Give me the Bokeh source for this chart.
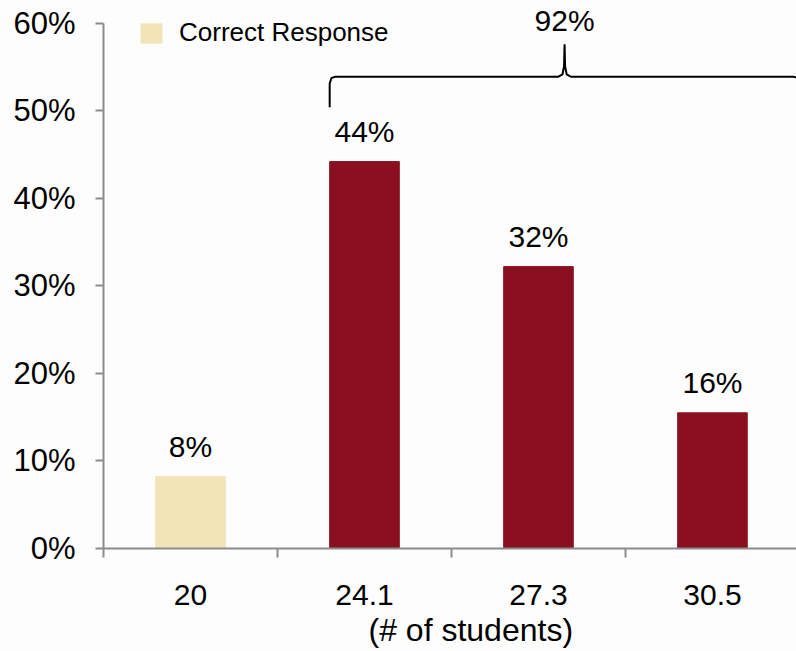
from bokeh.plotting import figure
from bokeh.models import (Range1d, FixedTicker, PrintfTickFormatter, Legend, LegendItem,
                          ColumnDataSource, Title)
from bokeh.core.properties import value
from bokeh.embed import file_html
from bokeh.resources import INLINE

# ---- data ----
categories = ["20", "24.1", "27.3", "30.5"]
values = [8.2, 44.2, 32.2, 15.5]
is_correct = [True, False, False, False]
y_ticks = [0, 10, 20, 30, 40, 50, 60]
axis_title = "(# of students)"
legend_text = "Correct Response"

BEIGE = "#F2E4B6"
RED = "#8A1020"
FONT = "Liberation Sans"
FS = "30px"

x_centers = [i + 0.5 for i in range(len(categories))]
labels = [f"{int(v + 0.5)}%" for v in values]
colors = [BEIGE if c else RED for c in is_correct]

src = ColumnDataSource(dict(x=x_centers, top=values, label=labels, color=colors))

p = figure(width=796, height=651, output_backend="svg", toolbar_location=None,
           x_range=Range1d(0, 3.983), y_range=Range1d(0, 62.6),
           min_border_left=103, min_border_right=0, min_border_top=0, min_border_bottom=103)
p.background_fill_color = "#FDFDFD"
p.border_fill_color = "#FDFDFD"
p.outline_line_color = None
p.grid.visible = False

bars = p.vbar(x="x", top="top", width=0.4, bottom=0, color="color", source=src)

p.text(x="x", y="top", text="label", source=src, text_align="center",
       text_baseline="alphabetic", y_offset=-30, text_font_size=FS,
       text_font=value(FONT), text_color="#000000")

# y axis
ya = p.yaxis[0]
ya.bounds = (0, 60)
ya.ticker = FixedTicker(ticks=y_ticks)
ya.formatter = PrintfTickFormatter(format="%d%%")
ya.axis_line_color = "#8C8C8C"
ya.axis_line_width = 2
ya.major_tick_line_color = "#8C8C8C"
ya.major_tick_line_width = 2
ya.major_tick_out = 8
ya.major_tick_in = 0
ya.minor_tick_line_color = None
ya.major_label_standoff = 20
ya.major_label_text_font = FONT
ya.major_label_text_font_size = "31px"
ya.major_label_text_color = "#000000"

# x axis: labels at centers, ticks at boundaries (minor)
xa = p.xaxis[0]
xa.ticker = FixedTicker(ticks=x_centers, minor_ticks=list(range(len(categories) + 1)))
xa.major_label_overrides = {c: lab for c, lab in zip(x_centers, categories)}
xa.axis_line_color = "#8C8C8C"
xa.axis_line_width = 2
xa.major_tick_line_color = None
xa.major_tick_out = 0
xa.major_tick_in = 0
xa.minor_tick_line_color = "#8C8C8C"
xa.minor_tick_line_width = 2
xa.minor_tick_out = 9
xa.minor_tick_in = 0
xa.major_label_standoff = 27
xa.major_label_text_font = FONT
xa.major_label_text_font_size = FS
xa.major_label_text_color = "#000000"

# axis title below, shifted right like the reference
p.add_layout(Title(text=axis_title, align="left", offset=265, text_font=FONT,
                   text_font_size="32px", text_font_style="normal",
                   text_color="#000000", standoff=4), "below")

# brace over the incorrect responses
wrong_idx = [i for i, c in enumerate(is_correct) if not c]
b_left = x_centers[wrong_idx[0]] - 0.2
b_right = x_centers[wrong_idx[-1]] + 0.5
b_mid = (b_left + b_right) / 2
b_y = 53.9
b_hook = 3.5
b_peak = 3.7
bx = [b_left, b_left, b_left + 0.01, b_left + 0.035,
      b_mid - 0.035, b_mid - 0.012, b_mid - 0.003, b_mid,
      b_mid + 0.003, b_mid + 0.012, b_mid + 0.035,
      b_right - 0.035, b_right - 0.01, b_right, b_right]
by = [b_y - b_hook, b_y - 0.8, b_y - 0.15, b_y,
      b_y, b_y + 0.25, b_y + 1.2, b_y + b_peak,
      b_y + 1.2, b_y + 0.25, b_y,
      b_y, b_y - 0.15, b_y - 0.8, b_y - b_hook]
p.line(bx, by, line_color="#000000", line_width=2)

total = sum(v for v, c in zip(values, is_correct) if not c)
p.text(x=[b_mid], y=[b_y + b_peak], text=[f"{int(total + 0.5)}%"], text_align="center",
       text_baseline="alphabetic", y_offset=-24, text_font_size=FS,
       text_font=value(FONT), text_color="#000000")

# legend
legend = Legend(items=[LegendItem(label=legend_text, renderers=[bars], index=0)],
                location=(35, 500), padding=0, margin=0, spacing=0,
                glyph_width=26, glyph_height=24, label_height=24, label_standoff=15,
                label_text_font=FONT, label_text_font_size="26px",
                label_text_color="#000000", border_line_color=None,
                background_fill_alpha=0)
p.add_layout(legend)

open("out.html", "w").write(file_html(p, INLINE))
